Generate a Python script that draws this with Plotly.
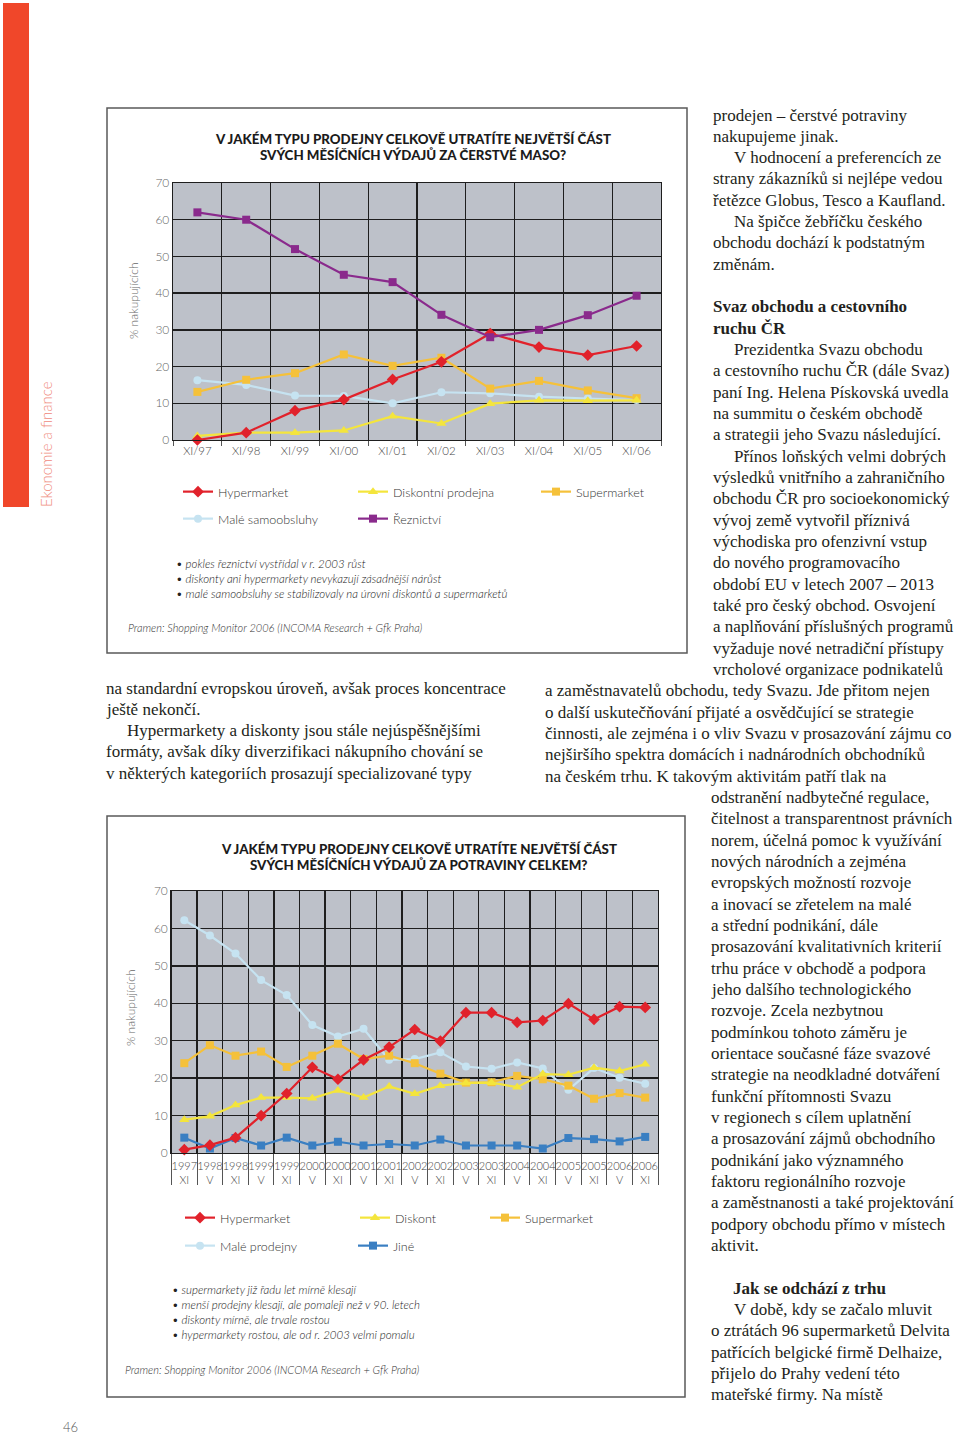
import plotly.graph_objects as go

W, H = 960, 1438


def px(x):
    return x / W


def py(y):
    return 1 - y / H


# ---------------- data: chart 1 (čerstvé maso) ----------------
c1_labels = ["XI/97", "XI/98", "XI/99", "XI/00", "XI/01", "XI/02", "XI/03", "XI/04", "XI/05", "XI/06"]
c1_hyper = [0, 2, 8, 11, 16.5, 21.3, 29, 25.3, 23.1, 25.6]
c1_disk = [1.1, 2, 2, 2.6, 6.5, 4.5, 9.9, 10.8, 10.7, 10.8]
c1_super = [13.1, 16.4, 18.2, 23.3, 20.2, 22.4, 14, 16.1, 13.5, 11.4]
c1_male = [16.3, 15, 12.1, 12, 10, 13, 12.7, 11.8, 11.3, 10.9]
c1_rez = [62, 60, 52, 45, 43, 34.1, 28, 30, 34, 39.3]

# ---------------- data: chart 2 (potraviny celkem) ----------------
c2_years = ["1997", "1998", "1998", "1999", "1999", "2000", "2000", "2001", "2001", "2002",
            "2002", "2003", "2003", "2004", "2004", "2005", "2005", "2006", "2006"]
c2_months = ["XI", "V", "XI", "V", "XI", "V", "XI", "V", "XI", "V",
             "XI", "V", "XI", "V", "XI", "V", "XI", "V", "XI"]
c2_labels = [f"{y}<br>{m}" for y, m in zip(c2_years, c2_months)]
c2_hyper = [0.9, 2.1, 4.1, 10, 15.9, 22.9, 19.7, 24.9, 28.3, 33, 29.9, 37.5, 37.5, 34.9, 35.4, 39.9, 35.7, 39.1, 38.9]
c2_male = [62.2, 58.1, 53.3, 46.2, 42.2, 34.2, 31.1, 33.2, 24.9, 25.1, 26.9, 23.1, 22.5, 24.2, 22.6, 16.9, 22.7, 20.1, 18.5]
c2_super = [24, 28.8, 26, 27.1, 23, 26, 29.2, 25.1, 26, 24, 21.2, 18.8, 18.9, 20.6, 19.7, 18, 14.5, 16, 14.8]
c2_disk = [8.9, 9.8, 12.8, 14.8, 14.8, 14.6, 16.7, 14.8, 17.8, 15.8, 18, 18.7, 18.8, 17.6, 21.1, 20.9, 22.8, 21.9, 23.7]
c2_jine = [4.1, 1.2, 4, 2, 4.1, 2, 3, 2, 2.4, 2, 3.6, 2, 2, 2, 1.2, 4, 3.7, 3.1, 4.3]

# ---------------- texts ----------------
title1 = ["V JAKÉM TYPU PRODEJNY CELKOVĚ UTRATÍTE NEJVĚTŠÍ ČÁST",
          "SVÝCH MĚSÍČNÍCH VÝDAJŮ ZA ČERSTVÉ MASO?"]
title2 = ["V JAKÉM TYPU PRODEJNY CELKOVĚ UTRATÍTE NEJVĚTŠÍ ČÁST",
          "SVÝCH MĚSÍČNÍCH VÝDAJŮ ZA POTRAVINY CELKEM?"]
bullets1 = ["• pokles řeznictví vystřídal v r. 2003 růst",
            "• diskonty ani hypermarkety nevykazují zásadnější nárůst",
            "• malé samoobsluhy se stabilizovaly na úrovni diskontů a supermarketů"]
bullets2 = ["• supermarkety již řadu let mírně klesají",
            "• menší prodejny klesají, ale pomaleji než v 90. letech",
            "• diskonty mírně, ale trvale rostou",
            "• hypermarkety rostou, ale od r. 2003 velmi pomalu"]
source = "Pramen: Shopping Monitor 2006 (INCOMA Research + Gfk Praha)"
ytitle = "% nakupujících"

left_text = [("n", "na standardní evropskou úroveň, avšak proces koncentrace"),
             ("n", "ještě nekončí."),
             ("i", "Hypermarkety a diskonty jsou stále nejúspěšnějšími"),
             ("n", "formáty, avšak díky diverzifikaci nákupního chování se"),
             ("n", "v některých kategoriích prosazují specializované typy")]

# kind: n = normal, i = indented, b = bold, w = wide column, x = lower column, bi = bold indented
right_text = [
    ("n", "prodejen – čerstvé potraviny"),
    ("n", "nakupujeme jinak."),
    ("i", "V hodnocení a preferencích ze"),
    ("n", "strany zákazníků si nejlépe vedou"),
    ("n", "řetězce Globus, Tesco a Kaufland."),
    ("i", "Na špičce žebříčku českého"),
    ("n", "obchodu dochází k podstatným"),
    ("n", "změnám."),
    ("n", ""),
    ("b", "Svaz obchodu a cestovního"),
    ("b", "ruchu ČR"),
    ("i", "Prezidentka Svazu obchodu"),
    ("n", "a cestovního ruchu ČR (dále Svaz)"),
    ("n", "paní Ing. Helena Pískovská uvedla"),
    ("n", "na summitu o českém obchodě"),
    ("n", "a strategii jeho Svazu následující."),
    ("i", "Přínos loňských velmi dobrých"),
    ("n", "výsledků vnitřního a zahraničního"),
    ("n", "obchodu ČR pro socioekonomický"),
    ("n", "vývoj země vytvořil příznivá"),
    ("n", "východiska pro ofenzivní vstup"),
    ("n", "do nového programovacího"),
    ("n", "období EU v letech 2007 – 2013"),
    ("n", "také pro český obchod. Osvojení"),
    ("n", "a naplňování příslušných programů"),
    ("n", "vyžaduje nové netradiční přístupy"),
    ("n", "vrcholové organizace podnikatelů"),
    ("w", "a zaměstnavatelů obchodu, tedy Svazu. Jde přitom nejen"),
    ("w", "o další uskutečňování přijaté a osvědčující se strategie"),
    ("w", "činnosti, ale zejména i o vliv Svazu v prosazování zájmu co"),
    ("w", "nejširšího spektra domácích i nadnárodních obchodníků"),
    ("w", "na českém trhu. K takovým aktivitám patří tlak na"),
    ("x", "odstranění nadbytečné regulace,"),
    ("x", "čitelnost a transparentnost právních"),
    ("x", "norem, účelná pomoc k využívání"),
    ("x", "nových národních a zejména"),
    ("x", "evropských možností rozvoje"),
    ("x", "a inovací se zřetelem na malé"),
    ("x", "a střední podnikání, dále"),
    ("x", "prosazování kvalitativních kriterií"),
    ("x", "trhu práce v obchodě a podpora"),
    ("x", "jeho dalšího technologického"),
    ("x", "rozvoje. Zcela nezbytnou"),
    ("x", "podmínkou tohoto záměru je"),
    ("x", "orientace současné fáze svazové"),
    ("x", "strategie na neodkladné dotváření"),
    ("x", "funkční přítomnosti Svazu"),
    ("x", "v regionech s cílem uplatnění"),
    ("x", "a prosazování zájmů obchodního"),
    ("x", "podnikání jako významného"),
    ("x", "faktoru regionálního rozvoje"),
    ("x", "a zaměstnanosti a také projektování"),
    ("x", "podpory obchodu přímo v místech"),
    ("x", "aktivit."),
    ("x", ""),
    ("bi", "Jak se odchází z trhu"),
    ("i", "V době, kdy se začalo mluvit"),
    ("x", "o ztrátách 96 supermarketů Delvita"),
    ("x", "patřících belgické firmě Delhaize,"),
    ("x", "přijelo do Prahy vedení této"),
    ("x", "mateřské firmy. Na místě"),
]

# ---------------- styles ----------------
SANS = "Lato"
SERIF = "Liberation Serif"
TXT = "#231f20"
GRAY = "#666666"
PLOTBG = "#bdc1c9"
GRID = "#1e1e1e"

COL_HYPER = "#e1222b"
COL_DISK = "#f4e53c"
COL_SUPER = "#f5c13a"
COL_MALE = "#c6e3f1"
COL_REZ = "#8a2a8c"
COL_JINE = "#3a7fc2"

fig = go.Figure()


def add_series(x, y, name, color, symbol, xa, ya, legend, msize=8):
    fig.add_trace(go.Scatter(
        x=x, y=y, name=name, mode="lines+markers",
        line=dict(color=color, width=2.2),
        marker=dict(color=color, symbol=symbol, size=msize),
        xaxis=xa, yaxis=ya, legend=legend, cliponaxis=False,
    ))


# chart 1 traces
add_series(c1_labels, c1_male, "Malé samoobsluhy", COL_MALE, "circle", "x", "y", "legend4")
add_series(c1_labels, c1_super, "Supermarket", COL_SUPER, "square", "x", "y", "legend3")
add_series(c1_labels, c1_disk, "Diskontní prodejna", COL_DISK, "triangle-up", "x", "y", "legend2", 9)
add_series(c1_labels, c1_hyper, "Hypermarket", COL_HYPER, "diamond", "x", "y", "legend", 9)
add_series(c1_labels, c1_rez, "Řeznictví", COL_REZ, "square", "x", "y", "legend5")

# chart 2 traces
add_series(c2_labels, c2_male, "Malé prodejny", COL_MALE, "circle", "x2", "y2", "legend9")
add_series(c2_labels, c2_super, "Supermarket", COL_SUPER, "square", "x2", "y2", "legend8")
add_series(c2_labels, c2_disk, "Diskont", COL_DISK, "triangle-up", "x2", "y2", "legend7", 9)
add_series(c2_labels, c2_jine, "Jiné", COL_JINE, "square", "x2", "y2", "legend10")
add_series(c2_labels, c2_hyper, "Hypermarket", COL_HYPER, "diamond", "x2", "y2", "legend6", 9)

axis_font = dict(family=SANS, size=12, color=GRAY, weight=300)

yaxis_common = dict(
    range=[0, 70], dtick=10, showgrid=True, gridcolor=GRID, gridwidth=1.3,
    showline=True, linecolor=GRID, linewidth=1.3, mirror=True, automargin=False,
    zeroline=False, ticks="", tickfont=axis_font, fixedrange=True,
)

layout = dict(
    width=W, height=H, margin=dict(l=0, r=0, t=0, b=0, pad=0, autoexpand=False),
    paper_bgcolor="white", plot_bgcolor=PLOTBG,
    showlegend=True,
    xaxis=dict(
        domain=[px(173), px(661)], anchor="y", type="category", automargin=False,
        range=[-0.5, 9.5], tickson="boundaries", ticks="outside", ticklen=5,
        tickcolor="#555", showgrid=True, gridcolor=GRID, gridwidth=1.3,
        showline=True, linecolor=GRID, linewidth=1.3, mirror=True,
        tickfont=dict(family=SANS, size=11.5, color="#444", weight=300),
    ),
    yaxis=dict(domain=[py(440), py(183)], anchor="x", **yaxis_common),
    xaxis2=dict(
        domain=[px(171.5), px(658)], anchor="y2", type="category", automargin=False,
        range=[-0.5, 18.5], tickson="boundaries", ticks="outside", ticklen=31,
        ticklabelstandoff=2, tickcolor="#555", showgrid=True, gridcolor=GRID,
        gridwidth=1.3, showline=True, linecolor=GRID, linewidth=1.3, mirror=True,
        tickfont=dict(family=SANS, size=11, color="#444", weight=300),
        tickangle=0,
    ),
    yaxis2=dict(domain=[py(1153), py(891)], anchor="x2", **yaxis_common),
)

legend_font = dict(family=SANS, size=12.5, color="#333", weight=300)
legend_pos = {
    "legend": (218, 492), "legend2": (393, 492), "legend3": (576, 492),
    "legend4": (218, 519), "legend5": (393, 519),
    "legend6": (220, 1218), "legend7": (395, 1218), "legend8": (525, 1218),
    "legend9": (220, 1246), "legend10": (393, 1246),
}
for key, (tx, ty) in legend_pos.items():
    layout[key] = dict(
        x=px(tx - 40), y=py(ty), xanchor="left", yanchor="middle",
        orientation="h", font=legend_font, bgcolor="rgba(0,0,0,0)",
        borderwidth=0, itemwidth=30,
    )

fig.update_layout(**layout)

shapes = []
annotations = []

# red side bar
shapes.append(dict(type="rect", xref="paper", yref="paper",
                   x0=px(3), x1=px(29), y0=py(507), y1=py(3),
                   fillcolor="#f0472a", line=dict(width=0), layer="below"))


def ann(text, x, y, font, xanchor="left", yanchor="middle", angle=0):
    annotations.append(dict(text=text, x=px(x), y=py(y), xref="paper", yref="paper",
                            xanchor=xanchor, yanchor=yanchor, showarrow=False, font=font,
                            textangle=angle))


ann("Ekonomie a finance", 46, 444, dict(family=SANS, size=15, color="#ef8a7c", weight=300),
    xanchor="center", angle=-90)

# chart boxes
for (x0, y0, x1, y1) in [(107, 108, 687, 653), (107, 816, 685, 1397)]:
    shapes.append(dict(type="rect", xref="paper", yref="paper",
                       x0=px(x0), x1=px(x1), y0=py(y1), y1=py(y0),
                       fillcolor="rgba(0,0,0,0)", line=dict(color="#5a5a5a", width=1.5),
                       layer="below"))

# y-axis titles
ytitle_font = dict(family=SANS, size=12, color=GRAY, weight=300)
ann(ytitle, 133, 301, ytitle_font, xanchor="center", angle=-90)
ann(ytitle, 130, 1008, ytitle_font, xanchor="center", angle=-90)

title_font = dict(family=SANS, size=13.3, color="#1b1b1b", weight=900)
for i, t in enumerate(title1):
    ann(t, 413, 139 + 16 * i, title_font, xanchor="center")
for i, t in enumerate(title2):
    ann(t, 419, 849 + 16 * i, title_font, xanchor="center")

bullet_font = dict(family=SANS, size=11.5, color="#222", weight=300, style="italic")
for i, t in enumerate(bullets1):
    ann(t, 174, 563 + 15.2 * i, bullet_font)
for i, t in enumerate(bullets2):
    ann(t, 170, 1289 + 15.3 * i, bullet_font)

src_font = dict(family=SANS, size=11, color="#333", weight=300, style="italic")
ann(source, 126, 627, src_font)
ann(source, 123, 1369, src_font)

# body text
body_font = dict(family=SERIF, size=17, color=TXT)
bold_font = dict(family=SERIF, size=17, color=TXT, weight="bold")
LH = 21.33
for i, (kind, t) in enumerate(left_text):
    ann(t, 125 if kind == "i" else 104, 688 + LH * i, body_font)

xs = {"n": 711, "i": 732, "b": 711, "w": 543, "x": 709, "bi": 731}
for i, (kind, t) in enumerate(right_text):
    if not t:
        continue
    f = bold_font if kind in ("b", "bi") else body_font
    ann(t, xs[kind], 115 + LH * i, f)

# page number
ann("46", 70, 1427, dict(family=SANS, size=13, color="#555", weight=300), xanchor="center")

fig.update_layout(shapes=shapes, annotations=annotations)
fig.write_html(
    "out.html",
    config={"displayModeBar": False, "staticPlot": True},
    post_script=("document.documentElement.style.margin='0';"
                 "document.documentElement.style.overflow='hidden';"
                 "document.body.style.margin='0';"
                 "document.body.style.padding='0';"
                 "document.body.style.overflow='hidden';"
                 "var gd=document.getElementById('{plot_id}');"
                 "gd.style.position='fixed';gd.style.top='0px';gd.style.left='0px';"),
)
